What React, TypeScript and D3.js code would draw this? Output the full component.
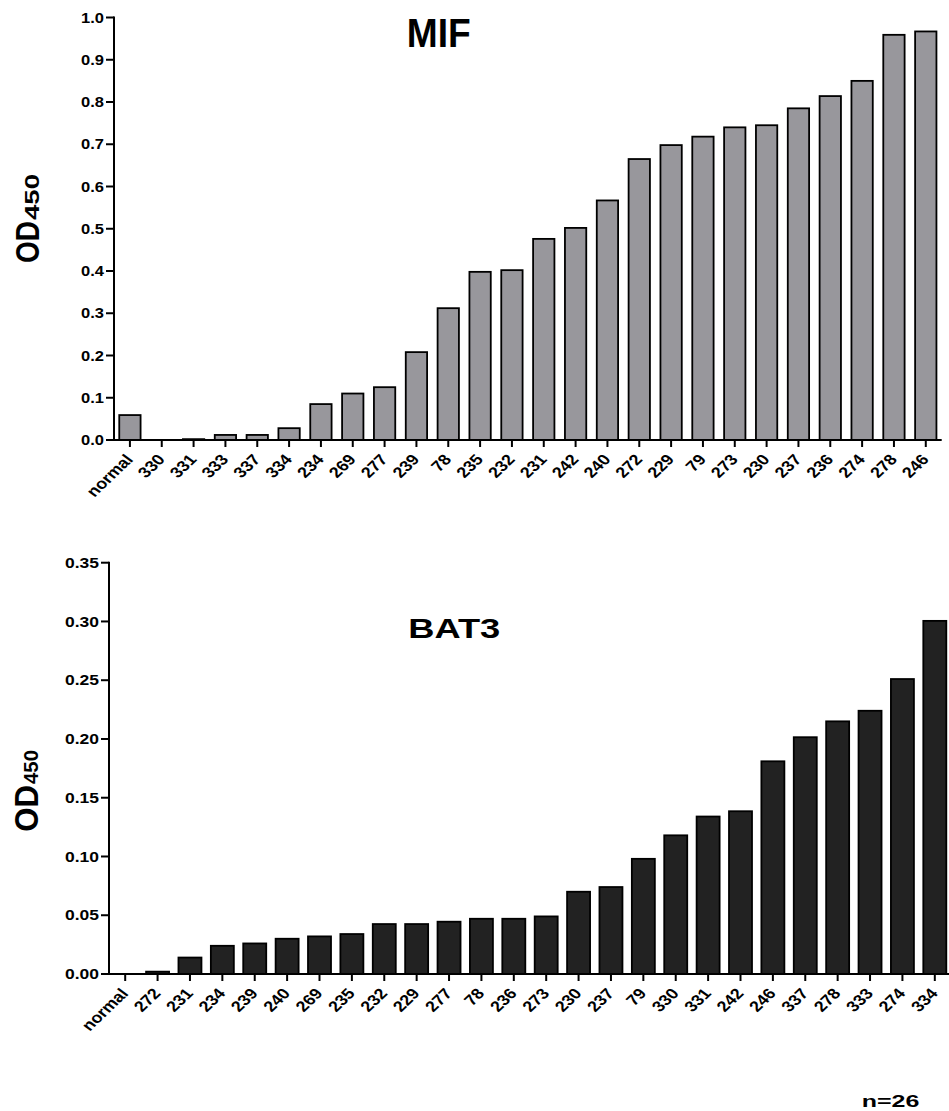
import React from "react";
import * as d3 from "d3";

const mifCategories = ["normal","330","331","333","337","334","234","269","277","239","78","235","232","231","242","240","272","229","79","273","230","237","236","274","278","246"];
const mifValues = [0.059,0,0.002,0.012,0.012,0.028,0.085,0.110,0.125,0.208,0.312,0.398,0.402,0.476,0.502,0.567,0.665,0.698,0.718,0.740,0.745,0.785,0.814,0.850,0.959,0.967];
const mifTicks = [0,0.1,0.2,0.3,0.4,0.5,0.6,0.7,0.8,0.9,1.0];

const bat3Categories = ["normal","272","231","234","239","240","269","235","232","229","277","78","236","273","230","237","79","330","331","242","246","337","278","333","274","334"];
const bat3Values = [0,0.002,0.014,0.024,0.026,0.030,0.032,0.034,0.0425,0.0425,0.0445,0.047,0.047,0.049,0.070,0.074,0.098,0.118,0.134,0.1385,0.181,0.2015,0.215,0.224,0.251,0.3005];
const bat3Ticks = [0,0.05,0.10,0.15,0.20,0.25,0.30,0.35];

const FONT = "Arial, 'Liberation Sans', Helvetica, sans-serif";

type PanelProps = {
  cats: string[]; vals: number[]; ticks: number[];
  x0: number; x1: number; axisEnd: number; yTop: number; yBottom: number; yMax: number;
  fmt: (v: number) => string; fill: string; pad: number; tickScale: number;
};

function Panel(p: PanelProps) {
  const x = d3.scaleBand<string>().domain(p.cats).range([p.x0, p.x1]).paddingInner(p.pad).paddingOuter(p.pad / 2);
  const y = d3.scaleLinear().domain([0, p.yMax]).range([p.yBottom, p.yTop]);
  return (
    <g>
      {p.cats.map((c, i) => (
        p.vals[i] > 0 ? (
          <rect key={c + i} x={x(c)!} y={y(p.vals[i])} width={x.bandwidth()} height={p.yBottom - y(p.vals[i])}
            fill={p.fill} stroke="#000" strokeWidth={1.8} />
        ) : null
      ))}
      <line x1={p.x0} x2={p.x0} y1={p.yTop - 1} y2={p.yBottom} stroke="#000" strokeWidth={2} />
      <line x1={p.x0 - 1} x2={p.axisEnd} y1={p.yBottom} y2={p.yBottom} stroke="#000" strokeWidth={2} />
      {p.ticks.map((t) => (
        <g key={t}>
          <line x1={p.x0 - 8} x2={p.x0} y1={y(t)} y2={y(t)} stroke="#000" strokeWidth={2} />
          <text transform={`translate(${p.x0 - 10},${y(t)}) scale(${p.tickScale},1)`} textAnchor="end" dy="0.36em"
            fontFamily={FONT} fontWeight="bold" fontSize={14} fill="#000">{p.fmt(t)}</text>
        </g>
      ))}
      {p.cats.map((c, i) => {
        const cx = x(c)! + x.bandwidth() / 2;
        return (
          <g key={"t" + c + i}>
            <line x1={cx} x2={cx} y1={p.yBottom} y2={p.yBottom + 7} stroke="#000" strokeWidth={2} />
            <text transform={`translate(${cx + 4},${p.yBottom + 20}) scale(1.2,1) rotate(-49)`} textAnchor="end"
              fontFamily={FONT} fontWeight="bold" fontSize={15} fill="#000">{c}</text>
          </g>
        );
      })}
    </g>
  );
}

export default function App() {
  return (
    <svg width={949} height={1111} style={{ position: "absolute", left: 0, top: 0, background: "#fff" }}>
      <Panel cats={mifCategories} vals={mifValues} ticks={mifTicks} x0={114} x1={941.7} axisEnd={941.7}
        yTop={17.5} yBottom={440} yMax={1.0} fmt={d3.format(".1f")} fill="#98979c" pad={0.33} tickScale={1.18} />
      <Panel cats={bat3Categories} vals={bat3Values} ticks={bat3Ticks} x0={109} x1={951} axisEnd={949}
        yTop={562.7} yBottom={974} yMax={0.35} fmt={d3.format(".2f")} fill="#222222" pad={0.29} tickScale={1.25} />
      <text x={406.7} y={46.7} fontFamily={FONT} fontWeight="bold" fontSize={41} textLength={64} lengthAdjust="spacingAndGlyphs">MIF</text>
      <text x={408.3} y={637.7} fontFamily={FONT} fontWeight="bold" fontSize={27} textLength={92} lengthAdjust="spacingAndGlyphs">BAT3</text>
      <text x={861.7} y={1106.7} fontFamily={FONT} fontWeight="bold" fontSize={16.3} textLength={57.6} lengthAdjust="spacingAndGlyphs">n=26</text>
      <text transform="translate(39,263) rotate(-90)" fontFamily={FONT} fontWeight="bold" fontSize={33} textLength={42} lengthAdjust="spacingAndGlyphs">OD</text>
      <text transform="translate(39,220) rotate(-90)" fontFamily={FONT} fontWeight="bold" fontSize={20} textLength={46} lengthAdjust="spacingAndGlyphs">450</text>
      <text transform="translate(38,831.7) rotate(-90)" fontFamily={FONT} fontWeight="bold" fontSize={33} textLength={46.7} lengthAdjust="spacingAndGlyphs">OD</text>
      <text transform="translate(38,784) rotate(-90)" fontFamily={FONT} fontWeight="bold" fontSize={20} textLength={34} lengthAdjust="spacingAndGlyphs">450</text>
    </svg>
  );
}
